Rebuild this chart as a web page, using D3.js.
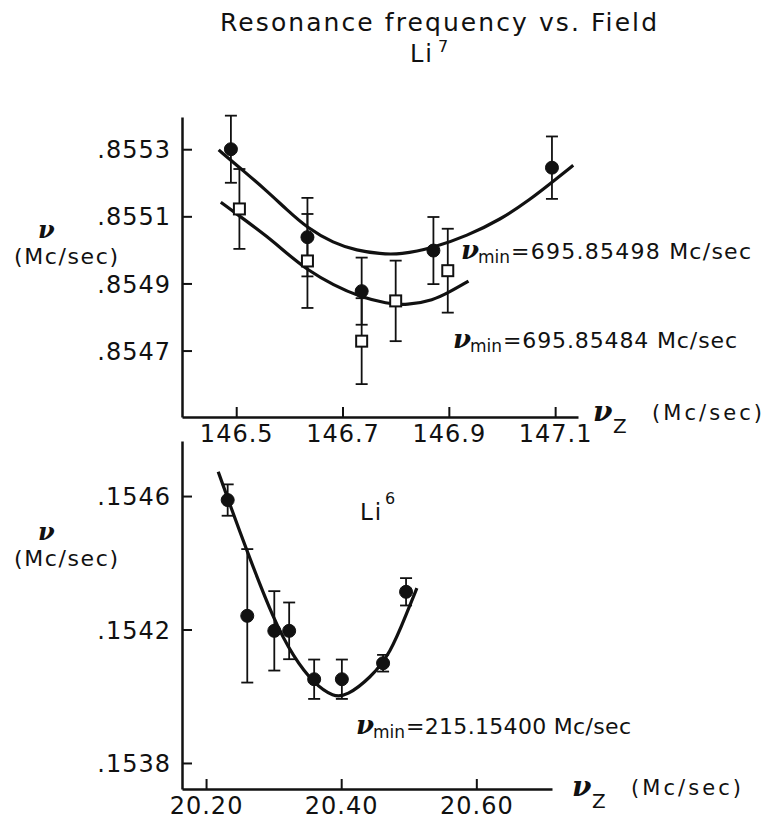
<!DOCTYPE html>
<html>
<head>
<meta charset="utf-8">
<script src="https://cdnjs.cloudflare.com/ajax/libs/d3/7.8.5/d3.min.js"></script>
<style>
  body { margin: 0; background: #fff; }
  svg { display: block; }
  text { font-family: "DejaVu Sans", sans-serif; fill: #111; }
  .nu { font-family: "DejaVu Serif", serif; font-style: italic; font-weight: bold; }
</style>
</head>
<body>
<svg id="chart" width="768" height="826"></svg>
<script>
// Li7 panel, filled circles
var li7FieldFilled = [146.490, 146.634, 146.736, 146.871, 147.094];
var li7FreqFilled  = [0.855300, 0.855038, 0.854877, 0.854998, 0.855245];
var li7ErrFilled   = [0.000100, 0.000117, 0.000100, 0.000100, 0.000093];
// Li7 panel, open squares
var li7FieldOpen = [146.506, 146.634, 146.736, 146.800, 146.898];
var li7FreqOpen  = [0.855122, 0.854967, 0.854728, 0.854848, 0.854938];
var li7ErrOpen   = [0.000119, 0.000140, 0.000128, 0.000120, 0.000125];
// fitted curves
var li7CurveAField = [146.467, 146.514, 146.558, 146.595, 146.634, 146.683, 146.727, 146.771, 146.808, 146.871, 146.934, 146.997, 147.053, 147.097, 147.134];
var li7CurveAFreq  = [0.855298, 0.855235, 0.855175, 0.855120, 0.855065, 0.855020, 0.854998, 0.854988, 0.854986, 0.855006, 0.855042, 0.855090, 0.855150, 0.855205, 0.855252];
var li7CurveBField = [146.471, 146.514, 146.558, 146.595, 146.634, 146.683, 146.733, 146.783, 146.821, 146.871, 146.902, 146.937];
var li7CurveBFreq  = [0.855142, 0.855092, 0.855040, 0.854990, 0.854940, 0.854895, 0.854860, 0.854840, 0.854835, 0.854850, 0.854875, 0.854907];
var li7XTicks = [146.5, 146.7, 146.9, 147.1];
var li7XLabels = ["146.5", "146.7", "146.9", "147.1"];
var li7YTicks = [0.8547, 0.8549, 0.8551, 0.8553];
var li7YLabels = [".8547", ".8549", ".8551", ".8553"];

// Li6 panel
var li6Field = [20.232, 20.261, 20.301, 20.323, 20.360, 20.401, 20.462, 20.496];
var li6Freq  = [0.154588, 0.154241, 0.154196, 0.154196, 0.154051, 0.154051, 0.154099, 0.154313];
var li6Err   = [0.000047, 0.000200, 0.000119, 0.000085, 0.000059, 0.000059, 0.000025, 0.000041];
var li6CurveField = [20.218, 20.232, 20.260, 20.300, 20.329, 20.359, 20.389, 20.408, 20.443, 20.473, 20.497, 20.512];
var li6CurveFreq  = [0.154673, 0.154593, 0.154438, 0.154229, 0.154119, 0.154039, 0.153997, 0.154001, 0.154054, 0.154129, 0.154249, 0.154324];
var li6XTicks = [20.20, 20.40, 20.60];
var li6XLabels = ["20.20", "20.40", "20.60"];
var li6YTicks = [0.1538, 0.1542, 0.1546];
var li6YLabels = [".1538", ".1542", ".1546"];

var svg = d3.select("#chart");

var xTop = d3.scaleLinear().domain([146.398, 147.143]).range([182, 578]);
var yTop = d3.scaleLinear().domain([0.854502, 0.855396]).range([417, 117]);
var xBot = d3.scaleLinear().domain([20.1644, 20.712]).range([182, 552]);
var yBot = d3.scaleLinear().domain([0.153722, 0.154765]).range([789, 441]);

function drawAxes(x, y, yPos, xt, xl, yt, yl) {
	var gx = svg.append("g")
		.attr("transform", "translate(0," + yPos + ")")
		.call(d3.axisBottom(x).tickValues(xt).tickSizeInner(-10).tickSizeOuter(0).tickPadding(8)
			.tickFormat(function(d, i) { return xl[i]; }));
	var gy = svg.append("g")
		.attr("transform", "translate(" + x.range()[0] + ",0)")
		.call(d3.axisLeft(y).tickValues(yt).tickSizeInner(-10).tickSizeOuter(0).tickPadding(11)
			.tickFormat(function(d, i) { return yl[i]; }));
	[gx, gy].forEach(function(g) {
		g.select(".domain").attr("stroke", "#111").attr("stroke-width", 2.5);
		g.selectAll(".tick line").attr("stroke", "#111").attr("stroke-width", 2);
		g.selectAll(".tick text").attr("fill", "#111").attr("font-size", 24)
			.attr("font-family", "DejaVu Sans").attr("letter-spacing", 1);
	});
	gy.selectAll(".tick text").attr("dy", "0.36em");
}

function drawCurve(x, y, fx, fy) {
	var pts = fx.map(function(d, i) { return [d, fy[i]]; });
	svg.append("path")
		.datum(pts)
		.attr("fill", "none")
		.attr("stroke", "#111")
		.attr("stroke-width", 3.2)
		.attr("d", d3.line().curve(d3.curveBasis)
			.x(function(d) { return x(d[0]); })
			.y(function(d) { return y(d[1]); }));
}

function drawPoints(x, y, fx, fy, fe, shape) {
	var pts = fx.map(function(d, i) { return { f: d, v: fy[i], e: fe[i] }; });
	var g = svg.append("g").attr("stroke", "#111");
	var bars = g.selectAll(".err").data(pts).enter().append("g");
	bars.append("line")
		.attr("x1", function(d) { return x(d.f); })
		.attr("x2", function(d) { return x(d.f); })
		.attr("y1", function(d) { return y(d.v - d.e); })
		.attr("y2", function(d) { return y(d.v + d.e); })
		.attr("stroke-width", 1.8);
	[-1, 1].forEach(function(s) {
		bars.append("line")
			.attr("x1", function(d) { return x(d.f) - 6; })
			.attr("x2", function(d) { return x(d.f) + 6; })
			.attr("y1", function(d) { return y(d.v + s * d.e); })
			.attr("y2", function(d) { return y(d.v + s * d.e); })
			.attr("stroke-width", 1.8);
	});
	if (shape == "circle") {
		g.selectAll(".pt").data(pts).enter().append("circle")
			.attr("cx", function(d) { return x(d.f); })
			.attr("cy", function(d) { return y(d.v); })
			.attr("r", 6.5)
			.attr("fill", "#111");
	} else {
		g.selectAll(".pt").data(pts).enter().append("rect")
			.attr("x", function(d) { return x(d.f) - 5.5; })
			.attr("y", function(d) { return y(d.v) - 5.5; })
			.attr("width", 11)
			.attr("height", 11)
			.attr("fill", "#fff")
			.attr("stroke-width", 2);
	}
}

function numLabel(xp, yp, value, len) {
	svg.append("text").attr("class", "nu").attr("x", xp).attr("y", yp).attr("font-size", 26).text("\u03bd");
	svg.append("text").attr("x", xp + 17).attr("y", yp + 4).attr("font-size", 17).text("min");
	svg.append("text").attr("x", xp + 50).attr("y", yp).attr("font-size", 22)
		.attr("textLength", len).attr("lengthAdjust", "spacing").text("=" + value + " Mc/sec");
}

function axisTitle(xp, yp) {
	svg.append("text").attr("class", "nu").attr("x", xp).attr("y", yp).attr("font-size", 28).text("\u03bd");
	svg.append("text").attr("x", xp + 20).attr("y", yp + 12).attr("font-size", 20).text("Z");
	svg.append("text").attr("x", xp + 59).attr("y", yp - 1).attr("font-size", 21)
		.attr("textLength", 110).attr("lengthAdjust", "spacing").text("(Mc/sec)");
}

function yTitle(yp) {
	svg.append("text").attr("class", "nu").attr("x", 38).attr("y", yp).attr("font-size", 24).text("\u03bd");
	svg.append("text").attr("x", 14).attr("y", yp + 26).attr("font-size", 22)
		.attr("textLength", 104).attr("lengthAdjust", "spacing").text("(Mc/sec)");
}

// title
svg.append("text").attr("x", 220).attr("y", 31).attr("font-size", 25)
	.attr("textLength", 437).attr("lengthAdjust", "spacing").text("Resonance frequency vs. Field");
svg.append("text").attr("x", 410).attr("y", 62).attr("font-size", 24).attr("letter-spacing", 2).text("Li");
svg.append("text").attr("x", 438).attr("y", 52).attr("font-size", 16).text("7");

// Li7 panel
drawAxes(xTop, yTop, 417, li7XTicks, li7XLabels, li7YTicks, li7YLabels);
drawCurve(xTop, yTop, li7CurveAField, li7CurveAFreq);
drawCurve(xTop, yTop, li7CurveBField, li7CurveBFreq);
drawPoints(xTop, yTop, li7FieldFilled, li7FreqFilled, li7ErrFilled, "circle");
drawPoints(xTop, yTop, li7FieldOpen, li7FreqOpen, li7ErrOpen, "square");
numLabel(461, 259, "695.85498", 240);
numLabel(453, 348, "695.85484", 234);
axisTitle(593, 421);
yTitle(238);

// Li6 panel
drawAxes(xBot, yBot, 789, li6XTicks, li6XLabels, li6YTicks, li6YLabels);
drawCurve(xBot, yBot, li6CurveField, li6CurveFreq);
drawPoints(xBot, yBot, li6Field, li6Freq, li6Err, "circle");
svg.append("text").attr("x", 360).attr("y", 520).attr("font-size", 23).attr("letter-spacing", 2).text("Li");
svg.append("text").attr("x", 385).attr("y", 504).attr("font-size", 16).text("6");
numLabel(356, 734, "215.15400", 225);
axisTitle(572, 796);
yTitle(540);
</script>
</body>
</html>
